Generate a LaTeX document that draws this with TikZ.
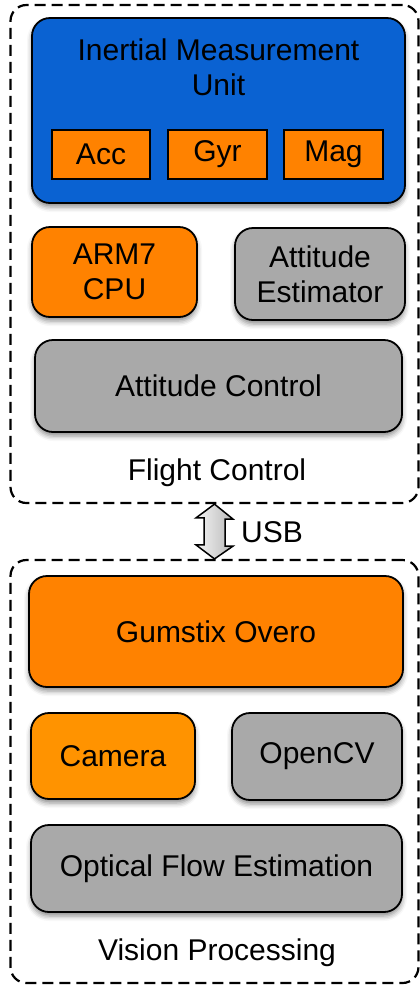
\documentclass[tikz,border=0pt]{standalone}
\usepackage{fontspec}
\setmainfont{Liberation Sans}
\usetikzlibrary{shadows.blur}
\definecolor{imublue}{HTML}{0A62D2}
\definecolor{orng}{HTML}{FF8200}
\definecolor{orngl}{HTML}{FF9300}
\definecolor{boxgray}{HTML}{A9A9A9}
\tikzset{
  txt/.style={font=\fontsize{30}{35}\selectfont, align=center, inner sep=0pt},
  rbox/.style={draw=black, line width=1.8pt, rounded corners=18pt, inner sep=0pt,
    blur shadow={shadow xshift=0pt, shadow yshift=-4pt, shadow blur radius=5pt, shadow opacity=45},
    font=\fontsize{30}{35}\selectfont, align=center},
  sbox/.style={draw=black, line width=1.8pt, inner sep=0pt, fill=orng,
    font=\fontsize{30}{35}\selectfont, align=center},
  container/.style={draw=black, line width=2.2pt, dash pattern=on 11pt off 6pt, rounded corners=16pt, inner sep=0pt},
}
\begin{document}
\begin{tikzpicture}[x=1pt, y=-1pt]
\useasboundingbox (0,0) rectangle (420,989);
% containers
\node[container, minimum width=408pt, minimum height=498pt] (fc) at (214.5,254) {};
\node[container, minimum width=408pt, minimum height=423pt] (vp) at (214.5,771.5) {};
% flight control
\node[rbox, fill=imublue, minimum width=373pt, minimum height=185pt] (imu) at (218.5,110.5) {};
\node[txt] (imutext) at (218.5,67.5) {Inertial Measurement\\Unit};
\node[sbox, minimum width=98pt, minimum height=49pt] (acc) at (101,154.5) {Acc};
\node[sbox, minimum width=99pt, minimum height=49pt] (gyr) at (217.5,154.5) {Gyr};
\node[sbox, minimum width=99pt, minimum height=49pt] (mag) at (333.5,154.5) {Mag};
\node[rbox, fill=orng, minimum width=165pt, minimum height=90pt] (arm) at (114.5,272) {ARM7\\CPU};
\node[rbox, fill=boxgray, minimum width=170pt, minimum height=92pt] (est) at (320,274) {Attitude\\Estimator};
\node[rbox, fill=boxgray, minimum width=367pt, minimum height=92pt] (ctl) at (218.5,386) {Attitude Control};
\node[txt] (fclabel) at (217,473) {Flight Control};
% USB arrow between the two containers
\coordinate (ua) at (fc.south);
\coordinate (ub) at (vp.north);
\filldraw[draw=black, line width=1.5pt, left color=gray!8, right color=gray!55, line join=miter]
  (ua) -- ++(18.5,15) -- ++(-8,0) -- ++(0,27) -- ++(8,0) -- (ub)
  -- ++(-18.5,-14) -- ++(8,0) -- ++(0,-27) -- ++(-8,0) -- cycle;
\node[txt, anchor=west] (usb) at (241,532) {USB};
% vision processing
\node[rbox, fill=orng, minimum width=374pt, minimum height=111pt] (gum) at (216,631.5) {Gumstix Overo};
\node[rbox, fill=orngl, minimum width=164pt, minimum height=86pt] (cam) at (113,756) {Camera};
\node[rbox, fill=boxgray, minimum width=170pt, minimum height=87pt] (cv) at (317,756.5) {OpenCV};
\node[rbox, fill=boxgray, minimum width=371pt, minimum height=87pt] (ofe) at (216.5,868.5) {Optical Flow Estimation};
\node[txt] (vplabel) at (217,953) {Vision Processing};
\end{tikzpicture}
\end{document}
